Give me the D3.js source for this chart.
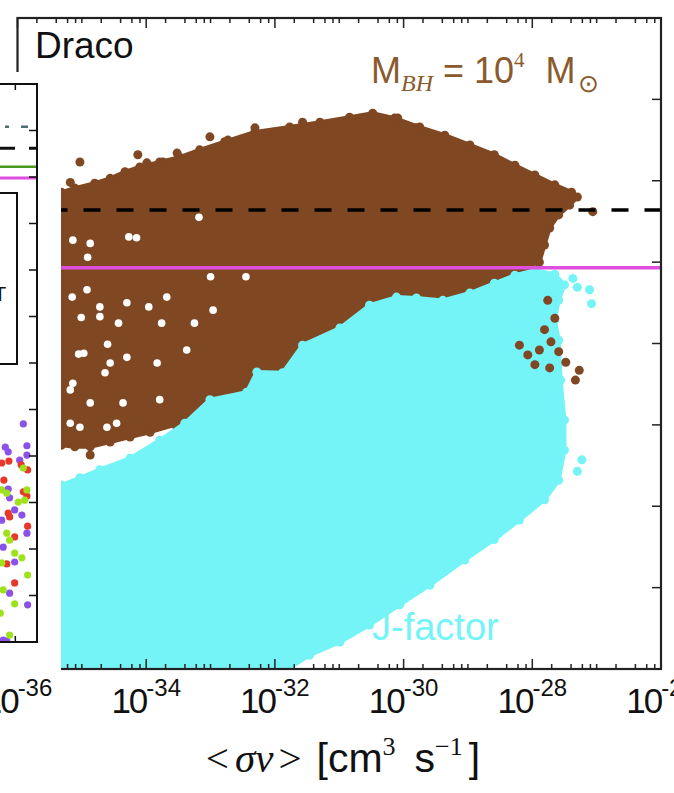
<!DOCTYPE html>
<html><head><meta charset="utf-8">
<script src="https://cdn.jsdelivr.net/npm/d3@7"></script>
<style>html,body{margin:0;padding:0;background:#fff}</style>
</head><body><svg id="c" width="674" height="793"></svg>
<script>
// ---- main panel data: x = log10(<σv> / cm^3 s^-1), y = log10 quantity (axis units) ----
const xTickExps = [-36, -34, -32, -30, -28, -26];
const yTickVals = [1, 2, 3, 4, 5, 6, 7];

// outline of the dense M_BH = 1e4 Msun cloud
const brownOutline = [
  [-35.65, 5.82], [-35.32, 5.86], [-35.11, 5.91], [-34.80, 5.97], [-34.56, 6.03],
  [-34.33, 6.11], [-34.10, 6.17], [-33.79, 6.23], [-33.48, 6.29], [-33.17, 6.38],
  [-32.78, 6.48], [-32.31, 6.60], [-31.77, 6.66], [-31.30, 6.72], [-30.84, 6.78],
  [-30.48, 6.83], [-30.14, 6.77], [-29.75, 6.66], [-29.36, 6.56], [-28.97, 6.44],
  [-28.59, 6.32], [-28.27, 6.19], [-27.96, 6.07], [-27.65, 5.95], [-27.39, 5.86],
  [-27.30, 5.80], [-27.42, 5.70], [-27.59, 5.58], [-27.73, 5.42], [-27.81, 5.21],
  [-27.89, 5.00], [-27.96, 4.93], [-27.96, 4.66], [-28.51, 4.53], [-30.06, 4.04],
  [-31.61, 3.31], [-32.78, 3.00], [-33.17, 3.12], [-33.55, 3.00], [-33.94, 2.91],
  [-34.25, 2.85], [-34.56, 2.79], [-34.87, 2.73], [-35.11, 2.73], [-35.32, 2.75],
  [-35.65, 2.75]
];
// scattered M_BH points outside the dense cloud
const brownPoints = [
  [-35.03, 6.23], [-35.18, 5.98], [-34.13, 6.32], [-33.99, 6.22], [-33.74, 6.23],
  [-33.52, 6.34], [-33.01, 6.54], [-32.73, 6.50], [-32.31, 6.65], [-31.57, 6.72],
  [-30.09, 6.77], [-29.80, 6.65], [-27.06, 5.62], [-34.87, 2.63], [-35.22, 2.80]
];
// M_BH points lying over the right edge of the J-factor cloud
const brownTail = [
  [-27.76, 4.53], [-27.65, 4.31], [-27.81, 4.17], [-27.71, 4.02], [-27.89, 3.92],
  [-28.07, 3.86], [-27.59, 3.90], [-27.48, 3.77], [-27.73, 3.70], [-28.20, 3.98],
  [-27.96, 3.74], [-27.27, 3.67], [-27.33, 3.55]
];
// empty pockets inside the sparse left part of the M_BH cloud
const brownGaps = [
  [-34.87, 5.23], [-34.27, 5.31], [-33.18, 5.55], [-34.15, 5.30], [-35.14, 5.27],
  [-34.92, 4.66], [-34.72, 4.45], [-34.30, 4.50], [-33.68, 4.57], [-33.96, 4.45],
  [-33.00, 4.82], [-32.45, 4.82], [-35.01, 4.32], [-34.43, 4.25], [-33.76, 4.25],
  [-33.25, 4.25], [-32.96, 4.41], [-34.97, 3.88], [-34.30, 3.83], [-33.83, 3.76],
  [-33.37, 3.92], [-34.64, 3.64], [-35.18, 3.43], [-34.87, 3.27], [-34.36, 3.27],
  [-33.79, 3.31], [-35.18, 3.02], [-34.46, 3.02], [-35.05, 3.87], [-34.60, 3.99],
  [-34.91, 5.06], [-35.15, 4.57], [-34.72, 4.33], [-34.56, 3.76], [-35.14, 3.51],
  [-35.03, 2.97], [-34.61, 2.97]
];
// outline of the J-factor cloud
const cyanOutline = [
  [-35.65, 2.26], [-35.32, 2.26], [-35.03, 2.35], [-34.72, 2.45], [-34.25, 2.59],
  [-33.79, 2.81], [-33.40, 3.02], [-33.01, 3.31], [-32.44, 3.40], [-32.28, 3.65],
  [-31.88, 3.64], [-31.57, 3.98], [-30.99, 4.19], [-30.53, 4.47], [-30.11, 4.57],
  [-29.80, 4.56], [-29.39, 4.53], [-28.97, 4.62], [-28.59, 4.74], [-28.27, 4.84],
  [-27.96, 4.90], [-27.65, 4.85], [-27.50, 4.72], [-27.59, 4.53], [-27.65, 4.29],
  [-27.59, 4.04], [-27.56, 3.55], [-27.50, 3.06], [-27.50, 2.69], [-27.59, 2.32],
  [-27.81, 2.08], [-28.20, 1.83], [-28.59, 1.59], [-29.05, 1.34], [-29.59, 1.03],
  [-30.06, 0.79], [-30.53, 0.54], [-30.99, 0.33], [-31.46, 0.17], [-31.77, 0.01],
  [-31.85, -0.26], [-35.65, -0.26]
];
const cyanPoints = [
  [-27.23, 2.57], [-27.30, 2.43], [-27.37, 4.80], [-27.11, 4.66], [-27.30, 4.69],
  [-27.08, 4.49], [-33.52, 2.91]
];
const dashedLimit = 5.64;   // black dashed line
const magentaLimit = 4.93;  // magenta line

// ---- neighbouring panel (partly visible on the left) ----
const leftLines = { dashdot: 11.08, dashed: 10.62, green: 10.22, magenta: 9.98 };
const leftRed = [
  [-26.49, 3.85], [-26.39, 3.89], [-26.22, 3.81], [-26.13, 3.70], [-26.46, 3.48],
  [-26.19, 3.23], [-26.14, 3.14], [-26.40, 2.77], [-26.38, 2.69], [-26.13, 2.49],
  [-26.31, 2.26], [-26.42, 1.68], [-26.31, 1.27]
];
const leftGreen = [
  [-26.19, 3.74], [-26.49, 3.27], [-26.42, 3.20], [-26.14, 3.27], [-26.17, 3.05],
  [-26.26, 3.01], [-26.42, 2.34], [-26.38, 2.19], [-26.31, 1.91], [-26.21, 1.81],
  [-26.49, 1.70], [-26.13, 1.44], [-26.47, 1.12], [-26.31, 0.82], [-26.51, 0.62],
  [-26.38, 0.15]
];
const leftPurple = [
  [-26.19, 4.69], [-26.44, 4.19], [-26.40, 4.09], [-26.14, 4.22], [-26.14, 4.02],
  [-26.24, 3.91], [-26.40, 3.29], [-26.38, 3.10], [-26.31, 2.84], [-26.21, 2.73],
  [-26.49, 2.62], [-26.14, 2.34], [-26.47, 2.04], [-26.31, 1.72], [-26.38, 1.05],
  [-26.13, 0.80], [-26.47, 0.04], [-26.42, 0.02]
];

const svg = d3.select('#c');
const m = { left: 17.5, right: 661, top: 18, bottom: 669 };

const x = d3.scaleLog().domain([1e-36, 1e-26]).range([m.left, m.right]);
const y = d3.scaleLinear().domain([0, 8]).range([m.bottom, m.top]);
const px = e => x(Math.pow(10, e));

const BROWN = '#7f4722', CYAN = '#74f4f6';

svg.append('defs').append('clipPath').attr('id', 'plotclip')
  .append('rect').attr('x', m.left).attr('y', m.top)
  .attr('width', m.right - m.left).attr('height', m.bottom - m.top);

const data = svg.append('g').attr('clip-path', 'url(#plotclip)');
const area = d3.line().x(d => px(d[0])).y(d => y(d[1])).curve(d3.curveLinearClosed);

function dots(pts, color, r) {
  data.append('g').selectAll('circle').data(pts).join('circle')
    .attr('cx', d => px(d[0])).attr('cy', d => y(d[1])).attr('r', r).attr('fill', color);
}
function cloud(outline, points, color) {
  data.append('path').attr('d', area(outline)).attr('fill', color)
    .attr('stroke', color).attr('stroke-width', 4).attr('stroke-linejoin', 'round');
  dots(outline.concat(points), color, 4.5);
}
cloud(brownOutline, brownPoints, BROWN);
dots(brownGaps, '#fff', 3.8);
cloud(cyanOutline, cyanPoints, CYAN);
dots(brownTail, BROWN, 4.5);

data.append('line').attr('x1', m.left).attr('x2', m.right)
  .attr('y1', y(dashedLimit)).attr('y2', y(dashedLimit))
  .attr('stroke', '#000').attr('stroke-width', 3.5).attr('stroke-dasharray', '17 16');
data.append('line').attr('x1', m.left).attr('x2', m.right)
  .attr('y1', y(magentaLimit)).attr('y2', y(magentaLimit))
  .attr('stroke', '#e04ee0').attr('stroke-width', 3.5);

// frame and ticks
const axisCol = '#222';
svg.append('rect').attr('x', m.left).attr('y', m.top)
  .attr('width', m.right - m.left).attr('height', m.bottom - m.top)
  .attr('fill', 'none').attr('stroke', axisCol).attr('stroke-width', 2.2);

const minor = [];
for (let d = -36; d < -26; d++) {
  [2, 4, 6, 8].forEach(k => minor.push(k * Math.pow(10, d)));
  if (d % 2 !== 0) minor.push(Math.pow(10, d));
}
const major = xTickExps.map(e => Math.pow(10, e));
const tg = svg.append('g').attr('stroke', axisCol).attr('stroke-width', 1.5);
[[minor, 5], [major, 10]].forEach(([vals, len]) => {
  vals.forEach(v => {
    const xx = x(v);
    tg.append('line').attr('x1', xx).attr('x2', xx).attr('y1', m.bottom).attr('y2', m.bottom - len);
    tg.append('line').attr('x1', xx).attr('x2', xx).attr('y1', m.top).attr('y2', m.top + len);
  });
});
yTickVals.forEach(v => {
  tg.append('line').attr('x1', m.right).attr('x2', m.right - 9).attr('y1', y(v)).attr('y2', y(v));
  tg.append('line').attr('x1', m.left).attr('x2', m.left + 9).attr('y1', y(v)).attr('y2', y(v));
});

// annotations
const SANS = 'Liberation Sans, Arial, Helvetica, sans-serif';
const SERIF = 'Liberation Serif, Times New Roman, serif';
svg.append('text').attr('x', 35).attr('y', 58).attr('font-family', SANS)
  .attr('font-size', 37).attr('fill', '#111').text('Draco');

const mbh = svg.append('text').attr('x', 371).attr('y', 83).attr('font-family', SANS)
  .attr('font-size', 36).attr('fill', '#8a5a2e');
mbh.append('tspan').text('M');
mbh.append('tspan').attr('dy', 8).attr('font-family', SERIF).attr('font-style', 'italic')
  .attr('font-size', 24).text('BH');
mbh.append('tspan').attr('dy', -8).text(' = 10');
mbh.append('tspan').attr('dy', -16).attr('font-family', SERIF).attr('font-size', 21).text('4');
mbh.append('tspan').attr('dy', 16).attr('dx', 21).text('M');
mbh.append('tspan').attr('dy', 9).attr('dx', 2).attr('font-family', SERIF).attr('font-size', 25).text('\u2299');

svg.append('text').attr('x', 372).attr('y', 640).attr('font-family', SANS)
  .attr('font-size', 38).attr('fill', CYAN).text('J-factor');

// ---- neighbouring panel ----
const lp = svg.append('g');
lp.append('rect').attr('x', 0).attr('y', 72).attr('width', 61).attr('height', 603).attr('fill', '#fff');
const lx = d3.scaleLog().domain([1e-28, 1e-26]).range([37 - 144, 37]);
const ly = d3.scaleLinear().domain([0, 12]).range([642, 84]);
const lpx = e => lx(Math.pow(10, e));
const lclip = svg.select('defs').append('clipPath').attr('id', 'leftclip');
lclip.append('rect').attr('x', 0).attr('y', 84).attr('width', 37).attr('height', 558);
const ld = lp.append('g').attr('clip-path', 'url(#leftclip)');
[[leftPurple, '#8a52e6'], [leftRed, '#e6392b'], [leftGreen, '#9ee21e']].forEach(([pts, c]) => {
  ld.append('g').selectAll('circle').data(pts).join('circle')
    .attr('cx', d => lpx(d[0])).attr('cy', d => ly(d[1])).attr('r', 3.6).attr('fill', c);
});
ld.append('line').attr('x1', 0).attr('x2', 37).attr('y1', ly(leftLines.dashdot)).attr('y2', ly(leftLines.dashdot))
  .attr('stroke', '#4d7272').attr('stroke-width', 2.5).attr('stroke-dasharray', '0 5 4 12 7 20');
ld.append('line').attr('x1', 0).attr('x2', 37).attr('y1', ly(leftLines.dashed)).attr('y2', ly(leftLines.dashed))
  .attr('stroke', '#111').attr('stroke-width', 3).attr('stroke-dasharray', '15 14');
ld.append('line').attr('x1', 0).attr('x2', 37).attr('y1', ly(leftLines.green)).attr('y2', ly(leftLines.green))
  .attr('stroke', '#4a9a22').attr('stroke-width', 2.5);
ld.append('line').attr('x1', 0).attr('x2', 37).attr('y1', ly(leftLines.magenta)).attr('y2', ly(leftLines.magenta))
  .attr('stroke', '#e04ee0').attr('stroke-width', 3);
// legend box of that panel
lp.append('rect').attr('x', -40).attr('y', 193).attr('width', 57).attr('height', 171)
  .attr('fill', '#fff').attr('stroke', '#111').attr('stroke-width', 2);
lp.append('text').attr('x', -6).attr('y', 301).attr('font-family', SANS).attr('font-size', 20)
  .attr('fill', '#111').text('T');
// its frame and ticks
lp.append('path').attr('d', `M0,${ly(12)}H37V${ly(0)}H0`).attr('fill', 'none')
  .attr('stroke', '#111').attr('stroke-width', 2);
const lt = lp.append('g').attr('stroke', '#111').attr('stroke-width', 1.5);
d3.range(1, 12).forEach(v => {
  lt.append('line').attr('x1', 37).attr('x2', 29).attr('y1', ly(v)).attr('y2', ly(v));
});
[5e-27].forEach(v => {
  lt.append('line').attr('x1', lx(v)).attr('x2', lx(v)).attr('y1', ly(12)).attr('y2', ly(12) + 6);
  lt.append('line').attr('x1', lx(v)).attr('x2', lx(v)).attr('y1', ly(0)).attr('y2', ly(0) - 6);
});

// x tick labels and title
const lab = svg.append('g').attr('font-family', SANS).attr('fill', '#111');
xTickExps.forEach(e => {
  const t = lab.append('text').attr('x', x(Math.pow(10, e))).attr('y', 713)
    .attr('text-anchor', 'middle').attr('font-size', 35);
  t.append('tspan').attr('letter-spacing', -2).text('10');
  t.append('tspan').attr('dy', -17).attr('font-size', 24).text('-' + (-e));
});
const title = lab.append('text').attr('x', 343).attr('y', 772).attr('text-anchor', 'middle')
  .attr('font-size', 41);
title.append('tspan').attr('font-family', SERIF).text('<');
title.append('tspan').attr('font-family', SERIF).attr('font-style', 'italic').attr('dx', 6).text('σv');
title.append('tspan').attr('font-family', SERIF).attr('dx', 5).text('>');
title.append('tspan').attr('dx', 15).text('[cm');
title.append('tspan').attr('dy', -17).attr('font-family', SERIF).attr('font-size', 26).text('3');
title.append('tspan').attr('dy', 17).attr('dx', 19).text('s');
title.append('tspan').attr('dy', -17).attr('font-family', SERIF).attr('font-size', 26).text('\u22121');
title.append('tspan').attr('dy', 17).attr('dx', 6).text(']');
</script></body></html>
